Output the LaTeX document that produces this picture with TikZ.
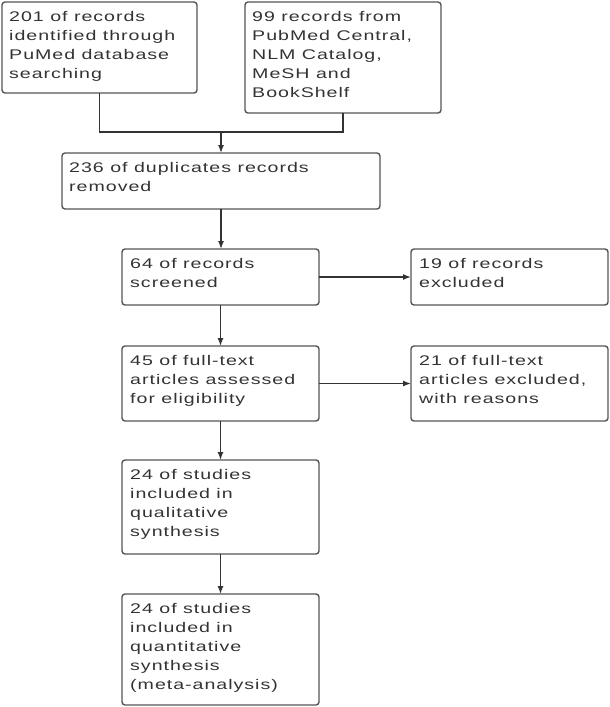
\documentclass[tikz,border=0pt]{standalone}
\usepackage{fontspec}
\setmainfont{Liberation Sans}[FakeStretch=1.4, LetterSpace=7]
\usetikzlibrary{arrows.meta}
\definecolor{boxgray}{HTML}{555555}
\definecolor{linegray}{HTML}{333333}
\definecolor{textgray}{HTML}{333333}
\tikzset{
  box/.style={draw=boxgray, line width=1.4pt, rounded corners=3pt, inner sep=0pt, outer sep=0pt, anchor=north west},
  txt/.style={anchor=north west, inner sep=0pt, align=left, text=textgray, font=\fontsize{14}{19}\selectfont},
  conn/.style={draw=linegray, line width=1.4pt},
  arr/.style={conn, -{Latex[length=8pt,width=6pt]}},
}
\begin{document}
\begin{tikzpicture}[x=1pt, y=-1pt]
\useasboundingbox (0,0) rectangle (610,707);
% boxes
\node[box, minimum width=195pt, minimum height=91pt]  (a) at (2,2) {};
\node[box, minimum width=196pt, minimum height=111pt] (b) at (245,2) {};
\node[box, minimum width=318pt, minimum height=56pt]  (c) at (62,153) {};
\node[box, minimum width=197pt, minimum height=56pt]  (d) at (122,249) {};
\node[box, minimum width=197pt, minimum height=56pt]  (e) at (411,249) {};
\node[box, minimum width=197pt, minimum height=75pt]  (f) at (122,346) {};
\node[box, minimum width=197pt, minimum height=75pt]  (g) at (411,346) {};
\node[box, minimum width=197pt, minimum height=94pt]  (h) at (122,460) {};
\node[box, minimum width=197pt, minimum height=111pt] (i) at (122,594) {};
% texts
\node[txt] (ta) at ([xshift=7pt,yshift=-9pt]a.north west) {201 of records\\identified through\\PuMed database\\searching};
\node[txt] (tb) at ([xshift=7pt,yshift=-9pt]b.north west) {99 records from\\PubMed Central,\\NLM Catalog,\\MeSH and\\BookShelf};
\node[txt] (tc) at ([xshift=7pt,yshift=-9pt]c.north west) {236 of duplicates records\\removed};
\node[txt] (td) at ([xshift=8pt,yshift=-9pt]d.north west) {64 of records\\screened};
\node[txt] (te) at ([xshift=8pt,yshift=-9pt]e.north west) {19 of records\\excluded};
\node[txt] (tf) at ([xshift=8pt,yshift=-9pt]f.north west) {45 of full-text\\articles assessed\\for eligibility};
\node[txt] (tg) at ([xshift=8pt,yshift=-9pt]g.north west) {21 of full-text\\articles excluded,\\with reasons};
\node[txt] (th) at ([xshift=8pt,yshift=-9pt]h.north west) {24 of studies\\included in\\qualitative\\synthesis};
\node[txt] (ti) at ([xshift=8pt,yshift=-9pt]i.north west) {24 of studies\\included in\\quantitative\\synthesis\\(meta-analysis)};
% connectors
\coordinate (j) at (221,132);
\draw[conn] (a.south) |- (j);
\draw[conn] (b.south) |- (j);
\draw[arr] (j) -- (c.north);
\draw[arr] (c.south) -- (c.south |- d.north);
\draw[arr] (d.east) -- (e.west);
\draw[arr] (d.south) -- (f.north);
\draw[arr] (f.east) -- (g.west);
\draw[arr] (f.south) -- (h.north);
\draw[arr] (h.south) -- (i.north);
\end{tikzpicture}
\end{document}
